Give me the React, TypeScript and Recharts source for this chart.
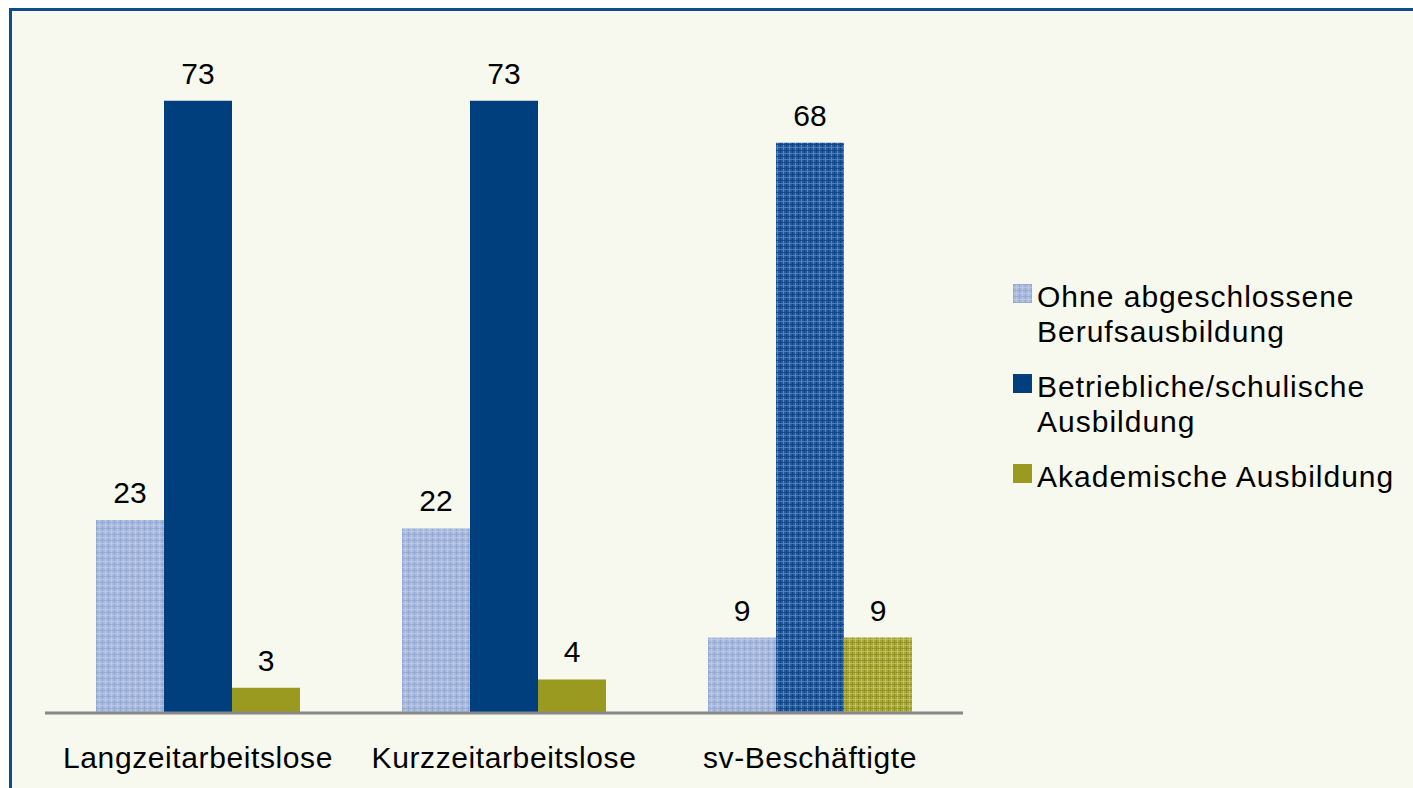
import { BarChart, Bar, XAxis, YAxis, Legend, LabelList, Cell } from 'recharts';

const categories = ['Langzeitarbeitslose', 'Kurzzeitarbeitslose', 'sv-Beschäftigte'];
const ohneAbschluss = [23, 22, 9];
const betrieblich = [73, 73, 68];
const akademisch = [3, 4, 9];
const seriesNames = [
  'Ohne abgeschlossene Berufsausbildung',
  'Betriebliche/schulische Ausbildung',
  'Akademische Ausbildung'
];
const legendLines = [
  ['Ohne abgeschlossene', 'Berufsausbildung'],
  ['Betriebliche/schulische', 'Ausbildung'],
  ['Akademische Ausbildung']
];

const data = categories.map((name, i) => ({
  name,
  ohne: ohneAbschluss[i],
  betr: betrieblich[i],
  akad: akademisch[i]
}));

// the sv group is drawn hatched in the original
const hatched = (i: number) => i === 2;
const FONT = '"Liberation Sans", Arial, sans-serif';

const Patterns = () => (
  <svg width={0} height={0} style={{ position: 'absolute' }}>
    <defs>
      <pattern id="patLight" width={6} height={6} patternUnits="userSpaceOnUse">
        <rect width={6} height={6} fill="#a9badd" />
        <rect x={0} width={1} height={6} fill="#92a7d1" />
        <rect x={3} width={1} height={6} fill="#bccae6" />
        <rect y={0} width={6} height={1} fill="#92a7d1" opacity={0.8} />
        <rect y={3} width={6} height={1} fill="#bccae6" opacity={0.8} />
      </pattern>
      <pattern id="patDark" width={6} height={6} patternUnits="userSpaceOnUse">
        <rect width={6} height={6} fill="#24589a" />
        <rect x={0} width={1} height={6} fill="#0c4586" />
        <rect x={3} width={1} height={6} fill="#5a84ba" />
        <rect y={0} width={6} height={1} fill="#0c4586" opacity={0.8} />
        <rect y={3} width={6} height={1} fill="#5a84ba" opacity={0.8} />
      </pattern>
      <pattern id="patOlive" width={6} height={6} patternUnits="userSpaceOnUse">
        <rect width={6} height={6} fill="#a7a73a" />
        <rect x={0} width={1} height={6} fill="#91911f" />
        <rect x={3} width={1} height={6} fill="#c2c268" />
        <rect y={0} width={6} height={1} fill="#91911f" opacity={0.8} />
        <rect y={3} width={6} height={1} fill="#c2c268" opacity={0.8} />
      </pattern>
    </defs>
  </svg>
);

const legendFills = ['url(#patLight)', '#003f7d', '#9a9a20'];

const LegendContent = () => (
  <div style={{ fontFamily: FONT }}>
    {seriesNames.map((name, i) => (
      <div key={name} style={{ display: 'flex', alignItems: 'flex-start', marginBottom: 20 }}>
        <svg width={19} height={19} style={{ marginTop: 5, marginRight: 5, flex: 'none' }}>
          <rect width={19} height={19} fill={legendFills[i]} />
        </svg>
        <div style={{ fontSize: 30, lineHeight: '35px', letterSpacing: 1, color: '#000' }}>
          {legendLines[i].map(line => (
            <div key={line} style={{ whiteSpace: 'nowrap' }}>{line}</div>
          ))}
        </div>
      </div>
    ))}
  </div>
);

export default function App() {
  return (
    <div style={{ position: 'fixed', left: 0, top: 0, width: 1413, height: 788, background: '#fff', fontFamily: FONT, overflow: 'hidden' }}>
      <Patterns />
      <div
        style={{
          position: 'absolute',
          left: 9,
          top: 8,
          width: 1413,
          height: 788,
          background: '#f8f9ee',
          borderLeft: '3px solid #0f4b8f',
          borderTop: '3px solid #0f4b8f'
        }}
      />
      <div style={{ position: 'absolute', left: 0, top: 0 }}>
        <BarChart
          width={1413}
          height={788}
          data={data}
          margin={{ top: 42, right: 50, left: 45, bottom: 30 }}
          barCategoryGap={51}
          barGap={0}
        >
          <XAxis
            dataKey="name"
            axisLine={{ stroke: '#888888', strokeWidth: 3 }}
            tickLine={false}
            tickSize={0}
            tickMargin={34}
            height={45}
            interval={0}
            tick={{ fill: '#000', fontSize: 30, letterSpacing: 0.6 }}
          />
          <YAxis hide domain={[0, 80]} />
          <Legend
            layout="vertical"
            align="right"
            verticalAlign="top"
            content={<LegendContent />}
            wrapperStyle={{ left: 1013, top: 279, width: 400 }}
          />
          <Bar dataKey="ohne" name={seriesNames[0]} fill="url(#patLight)" isAnimationActive={false}>
            {data.map((_, i) => (
              <Cell key={i} fill="url(#patLight)" />
            ))}
            <LabelList dataKey="ohne" position="top" offset={17} fill="#000" fontSize={30} />
          </Bar>
          <Bar dataKey="betr" name={seriesNames[1]} fill="#003f7d" isAnimationActive={false}>
            {data.map((_, i) => (
              <Cell key={i} fill={hatched(i) ? 'url(#patDark)' : '#003f7d'} />
            ))}
            <LabelList dataKey="betr" position="top" offset={17} fill="#000" fontSize={30} />
          </Bar>
          <Bar dataKey="akad" name={seriesNames[2]} fill="#9a9a20" isAnimationActive={false}>
            {data.map((_, i) => (
              <Cell key={i} fill={hatched(i) ? 'url(#patOlive)' : '#9a9a20'} />
            ))}
            <LabelList dataKey="akad" position="top" offset={17} fill="#000" fontSize={30} />
          </Bar>
        </BarChart>
      </div>
    </div>
  );
}
